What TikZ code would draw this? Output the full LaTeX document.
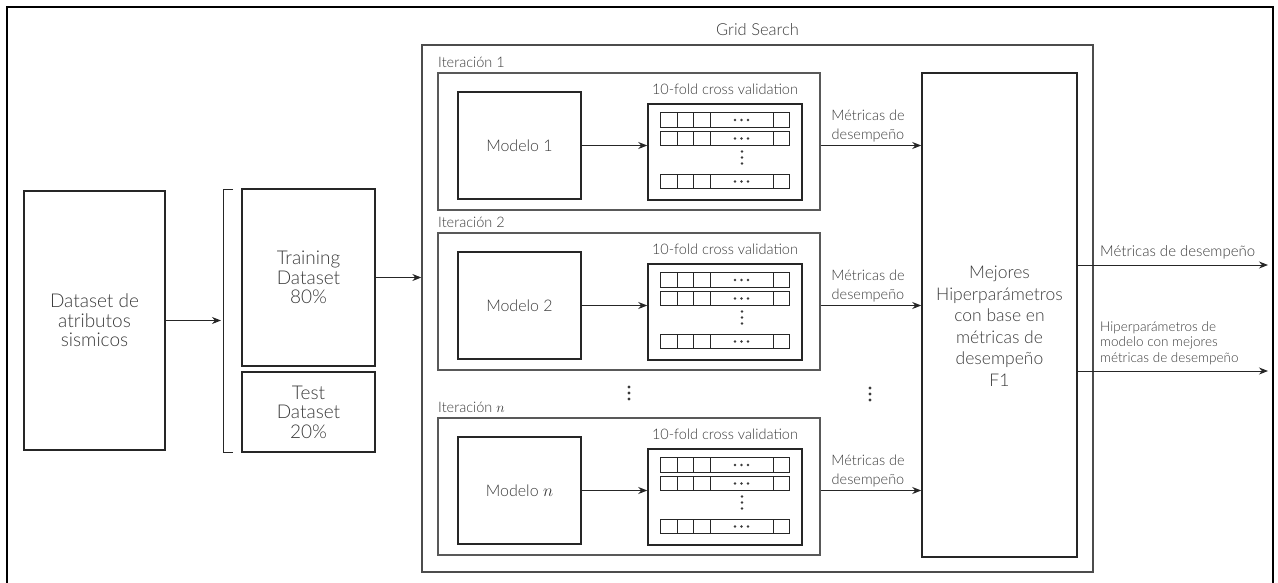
\documentclass[tikz,border=0pt]{standalone}
\usepackage{fontspec}
\setmainfont{Lato Light}
\usetikzlibrary{arrows.meta}
\definecolor{txt}{HTML}{3A3A3A}

\begin{document}
\begin{tikzpicture}[x=1pt,y=-1pt,text=txt]
		\tikzstyle{box}=[draw=black!85,line width=1.5pt,inner sep=0pt]
		\tikzstyle{iter}=[draw=black!65,line width=1.3pt,minimum width=382pt,minimum height=137pt]
		\tikzstyle{cell}=[draw=black!85,line width=1pt]
		\tikzstyle{lbl}=[inner sep=0pt,font=\fontsize{14.5}{19}\selectfont]
		\tikzstyle{big}=[font=\fontsize{19}{19.5}\selectfont,align=center]
		\tikzstyle{post}=[-{Stealth[length=9pt,width=7pt]},draw=black!85,line width=1pt]
		\useasboundingbox (0,0) rectangle (1278,582);
		\draw[line width=1.8pt] (7,7) rectangle (1273,592);
		% datos
		\node[box,big,minimum width=141pt,minimum height=259pt] (D) at (94.5,320.5) {Dataset de\\atributos\\sismicos};
		\coordinate (br) at (221,320.5);
		\draw[cell] (233,189) -- (223,189) -- (223,452) -- (233,452);
		\node[box,big,minimum width=133pt,minimum height=177pt] (Tr) at (308.5,277.5) {Training\\Dataset\\80\%};
		\node[box,big,minimum width=133pt,minimum height=80pt] (Te) at (308.5,412) {Test\\Dataset\\20\%};
		\draw[post] (D) -- (br);
		% grid search
		\node[draw=black!70,line width=1.3pt,minimum width=671pt,minimum height=527pt] (GS) at (757.5,308.5) {};
		\node[font=\fontsize{16.5}{19}\selectfont] (GSl) at (757.5,30) {Grid Search};
		\draw[post] (Tr.east) -- (Tr.east -| GS.west);
		\node[box,minimum width=155pt,minimum height=484pt] (B) at (999.5,315) {};
		\node[font=\fontsize{17.5}{21.5}\selectfont,align=center] (Bt) at (999.5,326) {Mejores\\Hiperparámetros\\con base en\\métricas de\\desempeño\\F1};
		\foreach \t/\i/\k in {73/1/1,233/2/2,418/n/$n$}{
			\node[iter] (I\i) at (629,\t+68.5) {};
			\node[lbl,anchor=west] (L\i) at (438,\t-11) {Iteración \k};
			\node[box,font=\fontsize{16}{19}\selectfont,minimum width=123pt,minimum height=107pt] (M\i) at (519.5,\t+72.5) {Modelo \k};
			\node[box,minimum width=154pt,minimum height=96pt] (C\i) at (725,\t+79) {};
			\node[lbl] (F\i) at (725,\t+16) {10-fold cross validation};
			\foreach \r in {47,65.5,108.5}{
				\draw[cell] (660,\t+\r-7.25) rectangle (789,\t+\r+7.25);
				\foreach \c in {677,693,710,773} \draw[cell] (\c,\t+\r-7.25) -- (\c,\t+\r+7.25);
				\foreach \d in {-6.5,0,6.5} \fill[txt] (741.5+\d,\t+\r) circle (1.4);
			}
			\foreach \d in {-6,0,6} \fill[txt] (742,\t+84.5+\d) circle (1.4);
			\draw[post] (M\i) -- (M\i -| C\i.west);
			\node[lbl,align=center,anchor=south] (P\i) at (868,\t+69) {Métricas de\\desempeño};
			\draw[post] (M\i.east -| I\i.east) -- (M\i.east -| B.west);
		}
		% puntos
		\foreach \d in {-6,0,6} \fill[txt] (629,393+\d) circle (1.6);
		\foreach \d in {-6,0,6} \fill[txt] (870,394+\d) circle (1.6);
		% salidas
		\coordinate (o1) at (1268,265);
		\coordinate (o2) at (1268,371);
		\draw[post] (B.east |- o1) -- (o1);
		\draw[post] (B.east |- o2) -- (o2);
		\node[anchor=south west,inner sep=0pt,font=\fontsize{15}{19}\selectfont] (S1) at (1100,259) {Métricas de desempeño};
		\node[anchor=south west,inner sep=0pt,align=left,font=\fontsize{13.5}{15.5}\selectfont] (S2) at (1100,365) {Hiperparámetros de\\modelo con mejores\\métricas de desempeño};
\end{tikzpicture}
\end{document}
